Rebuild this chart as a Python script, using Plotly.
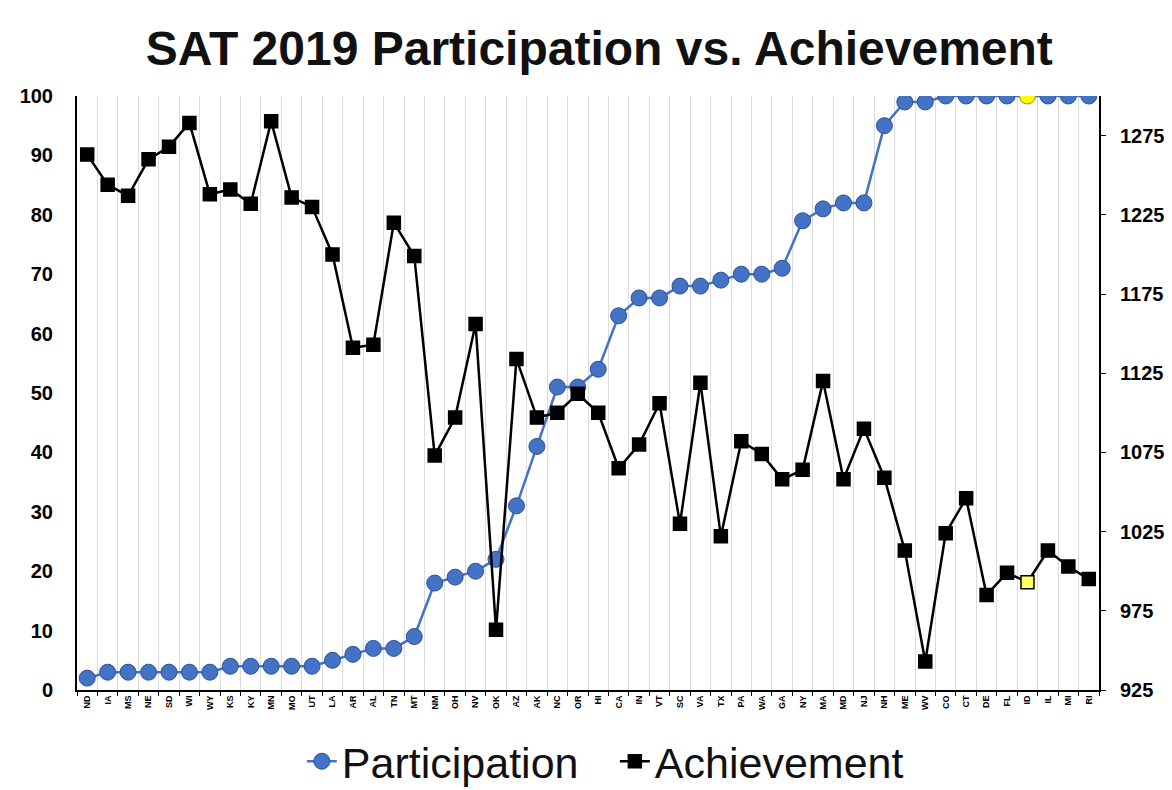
import plotly.graph_objects as go

states = ["ND","IA","MS","NE","SD","WI","WY","KS","KY","MN","MO","UT","LA","AR","AL","TN","MT",
          "NM","OH","NV","OK","AZ","AK","NC","OR","HI","CA","IN","VT","SC","VA","TX","PA","WA",
          "GA","NY","MA","MD","NJ","NH","ME","WV","CO","CT","DE","FL","ID","IL","MI","RI"]

participation = [2,3,3,3,3,3,3,4,4,4,4,4,5,6,7,7,9,
                 18,19,20,22,31,41,51,51,54,63,66,66,68,68,69,70,70,
                 71,79,81,82,82,95,99,99,100,100,100,100,100,100,100,100]

achievement = [1263,1244,1237,1260,1268,1283,1238,1241,1232,1284,1236,1230,1200,1141,1143,1220,1199,
               1073,1097,1156,963,1134,1097,1100,1112,1100,1065,1080,1106,1030,1119,1022,1082,1074,
               1058,1064,1120,1058,1090,1059,1013,943,1024,1046,985,999,993,1013,1003,995]

right_ticks = [925, 975, 1025, 1075, 1125, 1175, 1225, 1275]

highlight = "ID"

part_fill = ["#FFFF00" if s == highlight else "#4472C4" for s in states]
part_line = ["#8C8C00" if s == highlight else "#2F4F9A" for s in states]
ach_fill = ["#FFFF66" if s == highlight else "#000000" for s in states]

fig = go.Figure()

fig.add_trace(go.Scatter(
    x=states, y=participation, name="Participation", mode="lines+markers",
    line=dict(color="#4472C4", width=2.5),
    marker=dict(symbol="circle", size=16, color=part_fill,
                line=dict(color=part_line, width=1)),
    yaxis="y",
))

fig.add_trace(go.Scatter(
    x=states, y=achievement, name="Achievement", mode="lines+markers",
    line=dict(color="#000000", width=2.5),
    marker=dict(symbol="square", size=13, color=ach_fill,
                line=dict(color="#000000", width=1.5)),
    yaxis="y2",
))

font_family = "Liberation Sans, Arial, sans-serif"

# page body has an 8px margin, so the figure is offset by 8px
fig.update_layout(
    width=1164, height=782,
    margin=dict(l=69, r=73, t=88, b=100, autoexpand=False),
    paper_bgcolor="white", plot_bgcolor="white",
    font=dict(family=font_family, color="#000000"),
    title=dict(text="<b>SAT 2019 Participation vs. Achievement</b>",
               x=0.508, xanchor="center", y=0.948, yanchor="middle",
               font=dict(size=48, family=font_family, color="#111111")),
    xaxis=dict(type="category", tickson="boundaries", showgrid=True,
               range=[-0.5, len(states) - 0.5],
               gridcolor="#DCDCDC", gridwidth=1,
               showline=True, linecolor="#000000", linewidth=2,
               ticks="outside", ticklen=4, tickcolor="#000000",
               tickangle=-90, tickfont=dict(size=9, family=font_family, weight="bold"),
               zeroline=False),
    yaxis=dict(range=[0, 100], dtick=10, showgrid=False, zeroline=False,
               showline=True, linecolor="#000000", linewidth=2,
               ticks="", ticklabelstandoff=18,
               tickfont=dict(size=20, family=font_family, weight="bold")),
    yaxis2=dict(range=[925, 1300], overlaying="y", side="right",
                tickvals=right_ticks,
                showgrid=False, zeroline=False,
                showline=True, linecolor="#000000", linewidth=2,
                ticks="outside", ticklen=5, tickcolor="#000000",
                ticklabelstandoff=10,
                tickfont=dict(size=20, family=font_family, weight="bold")),
    legend=dict(orientation="h", x=0.22, xanchor="left", y=-0.12, yanchor="middle",
                font=dict(size=43, family=font_family, color="#111111"),
                itemwidth=30, entrywidth=268, entrywidthmode="pixels",
                bgcolor="rgba(0,0,0,0)"),
    showlegend=True,
)

fig.write_html("out.html")
